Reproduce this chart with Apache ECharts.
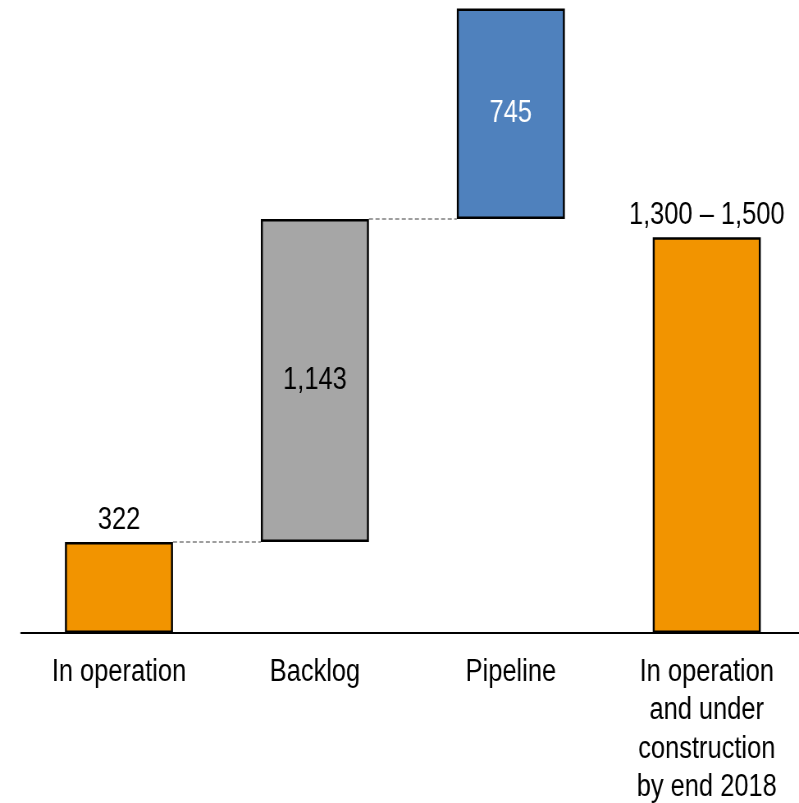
<!DOCTYPE html>
<html>
<head>
<meta charset="utf-8">
<script src="https://cdn.jsdelivr.net/npm/echarts@6/dist/echarts.min.js"></script>
<style>
  html, body { margin: 0; padding: 0; background: #fff; }
  #frame { position: relative; width: 799px; height: 803px; overflow: hidden; }
  /* the chart is laid out wider and condensed horizontally, giving narrow type */
  #chart { position: absolute; left: 0; top: 0; width: 974px; height: 803px;
           transform: scaleX(0.8203); transform-origin: 0 0; }
</style>
</head>
<body>
<div id="frame"><div id="chart"></div></div>
<script>
// Capacity build-up: operating, backlog and pipeline stacked as a waterfall
const categories = ['In operation', 'Backlog', 'Pipeline', 'In operation\nand under\nconstruction\nby end 2018'];
const inOperation = 322;
const backlog = 1143;
const pipeline = 745;
const outlookRange = [1300, 1500];

const colors = ['#F29400', '#A6A6A6', '#4F81BD', '#F29400'];
const FONT = '"Liberation Sans", Arial, sans-serif';

const outlook = (outlookRange[0] + outlookRange[1]) / 2;
const steps = [inOperation, backlog, pipeline, outlook];
const offsets = [0, inOperation, inOperation + backlog, 0];

const fmt = v => v.toLocaleString('en-US');
const stepLabels = [
  fmt(inOperation),
  fmt(backlog),
  fmt(pipeline),
  fmt(outlookRange[0]) + ' \u2013 ' + fmt(outlookRange[1])
];
const labelPos = ['top', 'inside', 'inside', 'top'];
const labelColor = ['#000', '#000', '#fff', '#000'];

// layout in the un-condensed coordinate space
const CHART_W = 974;
const GRID_LEFT = 25.6;
const GRID_W = 955.4; // runs a little past the right edge
const BAR_W = 131.7;
const band = GRID_W / categories.length;
const halfBar = (BAR_W / 2) / band; // half a bar, in category units

const chart = echarts.init(document.getElementById('chart'), null, { renderer: 'canvas', width: CHART_W, height: 803 });

// dashed connector running from the right edge of one bar to the left edge of the next
const connector = (from, to, level) => ({
  type: 'line',
  xAxisIndex: 1,
  data: [[from + halfBar, level], [to - halfBar, level]],
  symbol: 'none',
  silent: true,
  z: 1,
  lineStyle: { color: '#7f7f7f', width: 1.3, type: [5, 3] }
});

chart.setOption({
  animation: false,
  backgroundColor: '#fff',
  grid: {
    left: GRID_LEFT, width: GRID_W, top: 0, height: 633,
    containLabel: false, outerBoundsMode: 'none'
  },
  xAxis: [
    {
      type: 'category',
      data: categories,
      axisLine: { show: true, lineStyle: { color: '#000', width: 2 } },
      axisTick: { show: false },
      axisLabel: {
        interval: 0,
        margin: 20,
        color: '#000',
        fontSize: 31,
        lineHeight: 38.5,
        fontFamily: FONT
      },
      splitLine: { show: false }
    },
    {
      type: 'value',
      min: -0.5,
      max: categories.length - 0.5,
      show: false
    }
  ],
  yAxis: {
    type: 'value',
    min: 0,
    max: 2240,
    show: false
  },
  series: [
    {
      type: 'bar',
      stack: 'total',
      barWidth: BAR_W,
      data: offsets,
      itemStyle: { color: 'transparent', borderWidth: 0 },
      silent: true,
      z: 2
    },
    {
      type: 'bar',
      stack: 'total',
      barWidth: BAR_W,
      z: 2,
      data: steps.map((v, i) => ({
        value: v,
        itemStyle: { color: colors[i], borderColor: '#000', borderWidth: 2.4 },
        label: {
          show: true,
          position: labelPos[i],
          distance: 6,
          color: labelColor[i],
          fontSize: 31,
          fontFamily: FONT,
          formatter: () => stepLabels[i]
        }
      }))
    },
    connector(0, 1, inOperation),
    connector(1, 2, inOperation + backlog)
  ]
});
</script>
</body>
</html>
